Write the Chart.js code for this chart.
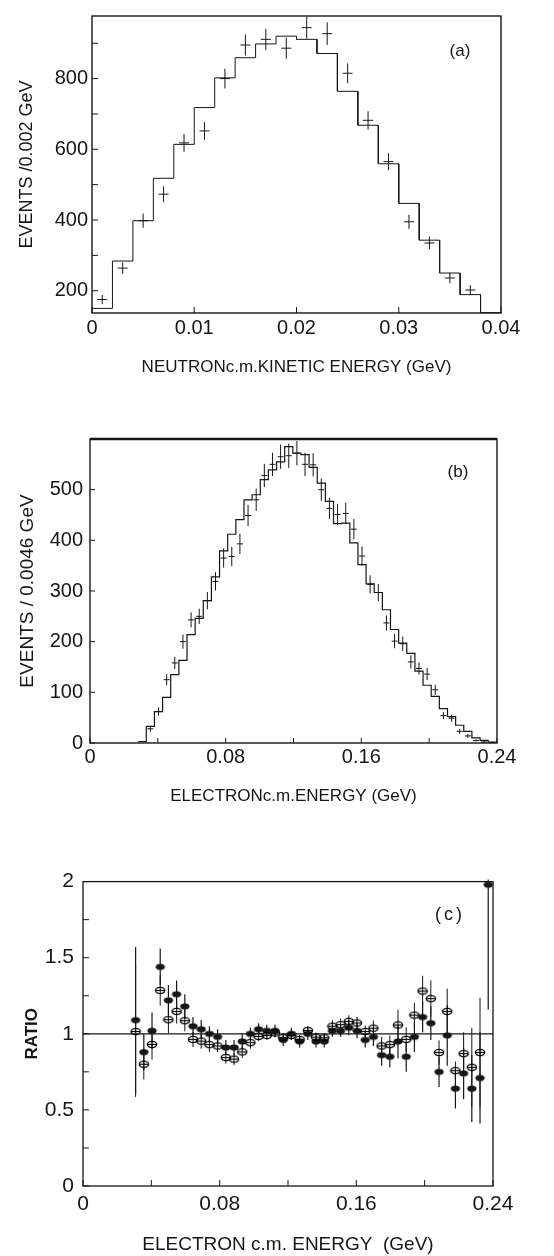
<!DOCTYPE html>
<html>
<head>
<meta charset="utf-8">
<title>Neutron and electron c.m. energy spectra</title>
<script src="https://cdn.jsdelivr.net/npm/chart.js@4.4.1/dist/chart.umd.min.js"></script>
<style>
  html, body { margin: 0; padding: 0; background: #fff; }
  .panel { position: absolute; left: 0; }
  #panelA { top: 0; }
  #panelB { top: 420px; }
  #panelC { top: 860px; }
</style>
</head>
<body>
<div class="panel" id="panelA"><canvas id="chartA" width="554" height="390"></canvas></div>
<div class="panel" id="panelB"><canvas id="chartB" width="554" height="390"></canvas></div>
<div class="panel" id="panelC"><canvas id="chartC" width="554" height="396"></canvas></div>
<script>
// ---------- (a) neutron c.m. kinetic energy, 0.002 GeV bins ----------
const neutronBinLow = [0, 0.002, 0.004, 0.006, 0.008, 0.010, 0.012, 0.014, 0.016, 0.018,
                       0.020, 0.022, 0.024, 0.026, 0.028, 0.030, 0.032, 0.034, 0.036, 0.038];
const neutronBinWidth = 0.002;
const neutronHist = [150, 284, 398, 518, 614, 718, 802, 859, 898, 920,
                     911, 871, 764, 668, 559, 447, 343, 250, 189, 138];
const neutronX = [0.001, 0.003, 0.005, 0.007, 0.009, 0.011, 0.013, 0.015, 0.017, 0.019,
                  0.021, 0.023, 0.025, 0.027, 0.029, 0.031, 0.033, 0.035, 0.037];
const neutronEvents = [175, 264, 398, 473, 618, 652, 800, 895, 911, 886,
                       944, 927, 815, 682, 565, 395, 335, 236, 202];
const neutronErr = [13, 16, 20, 22, 25, 25, 28, 30, 30, 30, 31, 32, 28, 26, 24, 20, 18, 15, 14];
const neutronXTicks = [0, 0.01, 0.02, 0.03, 0.04];
const neutronYTicks = [200, 300, 400, 500, 600, 700, 800, 900];
const neutronYLabelled = [200, 400, 600, 800];

// ---------- (b) electron c.m. energy ----------
const electronBinStart = 0.0284;
const electronBinWidth = 0.0048;
const electronHist = [3, 33, 62, 90, 135, 163, 214, 246, 281, 328,
                      379, 412, 441, 480, 490, 520, 539, 555, 585, 572,
                      569, 544, 513, 477, 433, 434, 395, 352, 314, 297,
                      263, 224, 197, 177, 142, 114, 92, 68, 52, 35,
                      23, 10, 5, 2];
// measured points start in the second bin
const electronFirstBin = 1;
const electronEvents = [28, 62, 125, 158, 200, 243, 250, 281, 319, 365,
                        368, 393, 449, 480, 528, 550, 565, 567, 572, 550,
                        549, 500, 463, 451, 453, 422, 369, 313, 297, 237,
                        201, 196, 160, 147, 136, 105, 54, 49, 23, 14,
                        5, 2, 1];
const electronErr = [6, 8, 11, 12, 14, 15, 15, 17, 18, 19,
                     19, 20, 21, 22, 23, 23, 24, 24, 24, 23,
                     23, 22, 21, 21, 21, 20, 19, 18, 17, 15,
                     14, 14, 13, 12, 12, 10, 7, 7, 5, 4,
                     2, 2, 1];
const energyXTicks = [0, 0.04, 0.08, 0.12, 0.16, 0.2, 0.24];
const energyXLabelled = [0, 0.08, 0.16, 0.24];
const electronYTicks = [0, 100, 200, 300, 400, 500];

// ---------- (c) ratio, same electron bins ----------
const ratioFilled = [1.09, 0.88, 1.02, 1.44, 1.22, 1.26, 1.18, 1.05, 1.03, 1.00,
                     0.98, 0.91, 0.91, 0.95, 1.00, 1.03, 1.02, 1.02, 0.96, 1.00,
                     0.95, 1.00, 0.95, 0.95, 1.02, 1.02, 1.04, 1.02, 0.96, 0.98,
                     0.86, 0.85, 0.95, 0.85, 0.98, 1.11, 1.07, 0.75, 0.99, 0.64,
                     0.74, 0.64, 0.71, 1.98];
const ratioFilledErr = [0.48, 0.12, 0.12, 0.12, 0.10, 0.09, 0.08, 0.06, 0.06, 0.05,
                        0.05, 0.05, 0.05, 0.05, 0.04, 0.04, 0.04, 0.04, 0.04, 0.04,
                        0.04, 0.04, 0.04, 0.04, 0.04, 0.04, 0.05, 0.05, 0.05, 0.06,
                        0.07, 0.07, 0.11, 0.10, 0.10, 0.10, 0.11, 0.10, 0.20, 0.13,
                        0.17, 0.22, 0.30, 0.82];
const ratioOpen = [1.015, 0.80, 0.93, 1.285, 1.093, 1.147, 1.086, 0.963, 0.952, 0.929,
                   0.920, 0.844, 0.834, 0.881, 0.942, 0.983, 0.989, 1.006, 0.975, 0.989,
                   0.963, 1.022, 0.978, 0.974, 1.050, 1.060, 1.082, 1.071, 1.015, 1.037,
                   0.920, 0.929, 1.058, 0.963, 1.123, 1.281, 1.231, 0.877, 1.147, 0.758,
                   0.870, 0.780, 0.877, null];
const ratioOpenErr = [0.43, 0.10, 0.10, 0.10, 0.09, 0.08, 0.07, 0.05, 0.05, 0.05,
                      0.04, 0.04, 0.04, 0.04, 0.04, 0.03, 0.03, 0.03, 0.03, 0.03,
                      0.03, 0.03, 0.03, 0.03, 0.04, 0.04, 0.04, 0.04, 0.04, 0.05,
                      0.06, 0.06, 0.10, 0.08, 0.08, 0.10, 0.12, 0.08, 0.15, 0.06,
                      0.14, 0.26, 0.36, 0];
const ratioUnity = 1;
const ratioYTicks = [0, 0.25, 0.5, 0.75, 1, 1.25, 1.5, 1.75, 2];
const ratioYLabelled = [0, 0.5, 1, 1.5, 2];

const ink = '#161616';
const FONT = '"Liberation Sans", Arial, sans-serif';

function stepOutline(lows, width, counts) {
  const pts = [];
  counts.forEach((c, i) => {
    pts.push({ x: lows[i], y: c }, { x: lows[i] + width, y: c });
  });
  return pts;
}

function binCentre(i) {
  return electronBinStart + (i + 0.5) * electronBinWidth;
}

// little ellipse markers for the ratio plot
function ellipseMark(filled) {
  const c = document.createElement('canvas');
  c.width = 12; c.height = 9;
  const g = c.getContext('2d');
  g.beginPath();
  g.ellipse(6, 4.5, 4.6, 3.1, 0, 0, 2 * Math.PI);
  if (filled) {
    g.fillStyle = ink; g.fill();
  } else {
    g.strokeStyle = '#000'; g.lineWidth = 1.4; g.stroke();
    g.lineWidth = 1.1;
    g.beginPath(); g.moveTo(1.5, 4.5); g.lineTo(10.5, 4.5); g.stroke();
  }
  return c;
}

// frame, inward tick marks, error bars and the panel tag
const framePlugin = {
  id: 'frame',
  beforeDatasetsDraw(chart, args, opts) {
    const { ctx, chartArea: a, scales: { x, y } } = chart;
    ctx.save();
    ctx.strokeStyle = ink;
    ctx.lineWidth = opts.lineWidth;
    ctx.strokeRect(a.left, a.top, a.right - a.left, a.bottom - a.top);
    if (opts.topWidth) {
      ctx.lineWidth = opts.topWidth;
      ctx.beginPath(); ctx.moveTo(a.left, a.top); ctx.lineTo(a.right, a.top); ctx.stroke();
    }
    ctx.lineWidth = 1;
    ctx.beginPath();
    opts.yTicks.forEach(v => {
      const py = y.getPixelForValue(v);
      ctx.moveTo(a.left, py); ctx.lineTo(a.left + opts.tickLen, py);
    });
    opts.xTicks.forEach(v => {
      const px = x.getPixelForValue(v);
      ctx.moveTo(px, a.bottom); ctx.lineTo(px, a.bottom - opts.tickLen);
    });
    ctx.stroke();

    // error bars
    ctx.beginPath();
    ctx.rect(a.left, a.top - 2, a.right - a.left, a.bottom - a.top + 2);
    ctx.clip();
    chart.data.datasets.forEach(ds => {
      if (!ds.errors) return;
      ctx.strokeStyle = ink;
      ctx.lineWidth = ds.barWidth || 1;
      ds.data.forEach((pt, i) => {
        if (pt.y == null) return;
        const px = x.getPixelForValue(pt.x);
        const py = y.getPixelForValue(pt.y);
        const e = ds.errors[i];
        ctx.beginPath();
        ctx.moveTo(px, y.getPixelForValue(pt.y - e));
        ctx.lineTo(px, y.getPixelForValue(pt.y + e));
        if (ds.crossHalf) {
          ctx.moveTo(px - ds.crossHalf, py);
          ctx.lineTo(px + ds.crossHalf, py);
        }
        ctx.stroke();
      });
    });
    ctx.restore();
  },
  afterDraw(chart, args, opts) {
    const { ctx, chartArea: a } = chart;
    ctx.save();
    ctx.fillStyle = ink;
    ctx.font = opts.tagFont;
    if (opts.tagSpacing) ctx.letterSpacing = opts.tagSpacing;
    ctx.textAlign = 'center';
    ctx.textBaseline = 'middle';
    ctx.fillText(opts.tag, a.right - opts.tagRight, a.top + opts.tagDown);
    ctx.restore();
  }
};

function tickFont(size, weight) {
  return { family: FONT, size: size, weight: weight || 'normal', lineHeight: 1.2 };
}

function buildScales(p) {
  return {
    x: {
      type: 'linear', min: p.xMin, max: p.xMax,
      grid: { display: false, drawTicks: false }, border: { display: false },
      afterBuildTicks: s => { s.ticks = p.xTicks.map(v => ({ value: v })); },
      afterFit: s => { s.height = p.xAxisHeight; },
      ticks: {
        autoSkip: false, maxRotation: 0, padding: p.xTickPad, color: ink,
        font: tickFont(p.tickSize),
        callback: v => (p.xLabelled.includes(v) ? String(v) : '')
      },
      title: {
        display: true, text: p.xTitle, color: ink, font: tickFont(p.xTitleSize),
        padding: { top: 0, bottom: p.xTitlePad }
      }
    },
    y: {
      type: 'linear', min: p.yMin, max: p.yMax,
      grid: { display: false, drawTicks: false }, border: { display: false },
      afterBuildTicks: s => { s.ticks = p.yTicks.map(v => ({ value: v })); },
      afterFit: s => { s.width = p.yAxisWidth; },
      ticks: {
        autoSkip: false, padding: p.yTickPad, color: ink,
        font: tickFont(p.tickSize),
        callback: v => (p.yLabelled.includes(v) ? String(v) : '')
      },
      title: {
        display: true, text: p.yTitle, color: ink,
        font: tickFont(p.yTitleSize, p.yTitleWeight),
        padding: { top: p.yTitlePad, bottom: 0 }
      }
    }
  };
}

function buildPanel(id, p, datasets) {
  return new Chart(document.getElementById(id), {
    type: 'line',
    data: { datasets: datasets },
    options: {
      responsive: false, animation: false, events: [],
      layout: { padding: p.padding },
      plugins: { legend: { display: false }, tooltip: { enabled: false }, frame: p.frame },
      scales: buildScales(p)
    },
    plugins: [framePlugin]
  });
}

// ---------- panel (a) ----------
buildPanel('chartA', {
  padding: { top: 5, right: 53, left: 0, bottom: 0 },
  xMin: 0, xMax: 0.04, yMin: 137, yMax: 977,
  xTicks: neutronXTicks, xLabelled: neutronXTicks,
  yTicks: neutronYTicks, yLabelled: neutronYLabelled,
  xAxisHeight: 77, yAxisWidth: 92,
  tickSize: 20, xTickPad: 3, yTickPad: 4,
  xTitle: 'NEUTRONc.m.KINETIC ENERGY (GeV)', xTitleSize: 17, xTitlePad: 12,
  yTitle: 'EVENTS /0.002 GeV', yTitleSize: 18, yTitlePad: 16,
  frame: { lineWidth: 1.4, tickLen: 6, xTicks: neutronXTicks, yTicks: neutronYTicks,
           tag: '(a)', tagFont: '17px ' + FONT, tagRight: 41, tagDown: 35 }
}, [
  { data: stepOutline(neutronBinLow, neutronBinWidth, neutronHist),
    borderColor: ink, borderWidth: 1, pointRadius: 0, tension: 0, fill: false },
  { data: neutronX.map((x, i) => ({ x: x, y: neutronEvents[i] })),
    errors: neutronErr, crossHalf: 5, barWidth: 1,
    showLine: false, pointRadius: 0 }
]);

// ---------- panel (b) ----------
const electronBinLow = electronHist.map((_, i) => electronBinStart + i * electronBinWidth);
buildPanel('chartB', {
  padding: { top: 17, right: 57, left: 0, bottom: 0 },
  xMin: 0, xMax: 0.24, yMin: 0, yMax: 600,
  xTicks: energyXTicks, xLabelled: energyXLabelled,
  yTicks: electronYTicks, yLabelled: electronYTicks,
  xAxisHeight: 67, yAxisWidth: 90,
  tickSize: 20, xTickPad: 2, yTickPad: 7,
  xTitle: 'ELECTRONc.m.ENERGY (GeV)', xTitleSize: 17, xTitlePad: 3,
  yTitle: 'EVENTS / 0.0046 GeV', yTitleSize: 19, yTitlePad: 16,
  frame: { lineWidth: 1.4, topWidth: 2.4, tickLen: 5, xTicks: energyXTicks, yTicks: electronYTicks,
           tag: '(b)', tagFont: '17px ' + FONT, tagRight: 39, tagDown: 33 }
}, [
  { data: stepOutline(electronBinLow, electronBinWidth, electronHist),
    borderColor: ink, borderWidth: 1.2, pointRadius: 0, tension: 0, fill: false },
  { data: electronEvents.map((v, i) => ({ x: binCentre(i + electronFirstBin), y: v })),
    errors: electronErr, crossHalf: 3, barWidth: 1,
    showLine: false, pointRadius: 0 }
]);

// ---------- panel (c) ----------
buildPanel('chartC', {
  padding: { top: 17, right: 61, left: 0, bottom: 0 },
  xMin: 0, xMax: 0.24, yMin: 0, yMax: 2,
  xTicks: energyXTicks, xLabelled: energyXLabelled,
  yTicks: ratioYTicks, yLabelled: ratioYLabelled,
  xAxisHeight: 70, yAxisWidth: 83,
  tickSize: 21, xTickPad: 6, yTickPad: 9,
  xTitle: 'ELECTRON c.m. ENERGY  (GeV)', xTitleSize: 19, xTitlePad: 0,
  yTitle: 'RATIO', yTitleSize: 17, yTitleWeight: 'bold', yTitlePad: 22,
  frame: { lineWidth: 1.3, tickLen: 6, xTicks: energyXTicks, yTicks: ratioYTicks,
           tag: '(c)', tagFont: '18px ' + FONT, tagSpacing: '3px', tagRight: 43, tagDown: 33 }
}, [
  { data: [{ x: 0, y: ratioUnity }, { x: 0.24, y: ratioUnity }],
    borderColor: ink, borderWidth: 1.3, pointRadius: 0, tension: 0, fill: false },
  { data: ratioOpen.map((v, i) => ({ x: binCentre(i), y: v })),
    errors: ratioOpenErr, barWidth: 1, showLine: false,
    pointStyle: ellipseMark(false), pointRadius: 4, clip: false },
  { data: ratioFilled.map((v, i) => ({ x: binCentre(i), y: v })),
    errors: ratioFilledErr, barWidth: 1.2, showLine: false,
    pointStyle: ellipseMark(true), pointRadius: 4, clip: false }
]);
</script>
</body>
</html>
